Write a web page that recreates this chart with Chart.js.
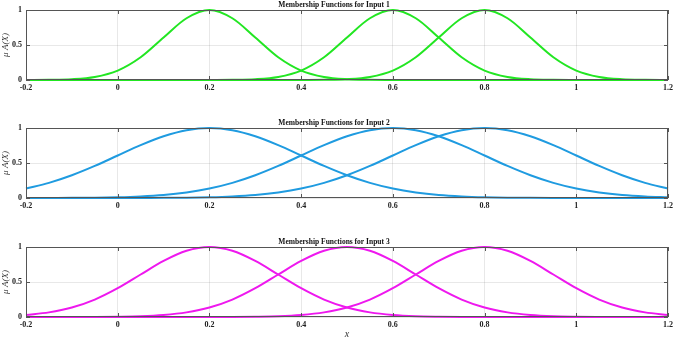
<!DOCTYPE html>
<html>
<head>
<meta charset="utf-8">
<script src="https://cdn.jsdelivr.net/npm/chart.js@4/dist/chart.umd.min.js"></script>
<style>
  body { margin: 0; background: #fff; }
  .box { position: absolute; left: 0; width: 676px; }
</style>
</head>
<body>
<div class="box" style="top:0px;height:100px"><canvas id="c1"></canvas></div>
<div class="box" style="top:118px;height:100px"><canvas id="c2"></canvas></div>
<div class="box" style="top:237px;height:103px"><canvas id="c3"></canvas></div>
<script>
// x positions, step 0.05 from -0.2 to 1.2
const xs = [-0.2, -0.15, -0.1, -0.05, 0, 0.05, 0.1, 0.15, 0.2, 0.25, 0.3, 0.35, 0.4, 0.45,
  0.5, 0.55, 0.6, 0.65, 0.7, 0.75, 0.8, 0.85, 0.9, 0.95, 1, 1.05, 1.1, 1.15, 1.2];

// Input 1 (narrow)
const in1_a = [0, 0.002, 0.011, 0.044, 0.135, 0.325, 0.607, 0.882, 1, 0.882, 0.607, 0.325, 0.135, 0.044,
  0.011, 0.002, 0, 0, 0, 0, 0, 0, 0, 0, 0, 0, 0, 0, 0];
const in1_b = [0, 0, 0, 0, 0, 0, 0, 0, 0, 0.002, 0.011, 0.044, 0.135, 0.325,
  0.607, 0.882, 1, 0.882, 0.607, 0.325, 0.135, 0.044, 0.011, 0.002, 0, 0, 0, 0, 0];
const in1_c = [0, 0, 0, 0, 0, 0, 0, 0, 0, 0, 0, 0, 0, 0.002,
  0.011, 0.044, 0.135, 0.325, 0.607, 0.882, 1, 0.882, 0.607, 0.325, 0.135, 0.044, 0.011, 0.002, 0];

// Input 2 (wide)
const in2_a = [0.135, 0.216, 0.325, 0.458, 0.607, 0.755, 0.882, 0.969, 1, 0.969, 0.882, 0.755, 0.607, 0.458,
  0.325, 0.216, 0.135, 0.08, 0.044, 0.023, 0.011, 0.005, 0.002, 0.001, 0, 0, 0, 0, 0];
const in2_b = [0, 0.001, 0.002, 0.005, 0.011, 0.023, 0.044, 0.08, 0.135, 0.216, 0.325, 0.458, 0.607, 0.755,
  0.882, 0.969, 1, 0.969, 0.882, 0.755, 0.607, 0.458, 0.325, 0.216, 0.135, 0.08, 0.044, 0.023, 0.011];
const in2_c = [0, 0, 0, 0, 0, 0.001, 0.002, 0.005, 0.011, 0.023, 0.044, 0.08, 0.135, 0.216,
  0.325, 0.458, 0.607, 0.755, 0.882, 0.969, 1, 0.969, 0.882, 0.755, 0.607, 0.458, 0.325, 0.216, 0.135];

// Input 3 (medium)
const in3_a = [0.029, 0.066, 0.135, 0.249, 0.411, 0.607, 0.801, 0.946, 1, 0.946, 0.801, 0.607, 0.411, 0.249,
  0.135, 0.066, 0.029, 0.011, 0.004, 0.001, 0, 0, 0, 0, 0, 0, 0, 0, 0];
const in3_b = [0, 0, 0, 0.001, 0.004, 0.011, 0.029, 0.066, 0.135, 0.249, 0.411, 0.607, 0.801, 0.946,
  1, 0.946, 0.801, 0.607, 0.411, 0.249, 0.135, 0.066, 0.029, 0.011, 0.004, 0.001, 0, 0, 0];
const in3_c = [0, 0, 0, 0, 0, 0, 0, 0, 0, 0.001, 0.004, 0.011, 0.029, 0.066,
  0.135, 0.249, 0.411, 0.607, 0.801, 0.946, 1, 0.946, 0.801, 0.607, 0.411, 0.249, 0.135, 0.066, 0.029];

const xTicks = [-0.2, 0, 0.2, 0.4, 0.6, 0.8, 1, 1.2];
const yTicks = [0, 0.5, 1];

const serif = '"Liberation Serif", "Times New Roman", serif';
const fmt = v => String(Number(v.toFixed(2)));

// frame + inward tick marks like matlab axes
const framePlugin = {
  id: 'frame',
  afterDraw(chart) {
    const ctx = chart.ctx, a = chart.chartArea;
    const xs_ = chart.scales.x, ys_ = chart.scales.y;
    ctx.save();
    ctx.strokeStyle = '#555';
    ctx.lineWidth = 1;
    ctx.strokeRect(a.left + 0.5, a.top + 0.5, a.right - a.left - 1, a.bottom - a.top - 1);
    ctx.beginPath();
    xTicks.forEach(v => {
      const px = Math.round(xs_.getPixelForValue(v)) + 0.5;
      ctx.moveTo(px, a.top); ctx.lineTo(px, a.top + 4);
      ctx.moveTo(px, a.bottom); ctx.lineTo(px, a.bottom - 4);
    });
    yTicks.forEach(v => {
      const py = Math.round(ys_.getPixelForValue(v)) + 0.5;
      ctx.moveTo(a.left, py); ctx.lineTo(a.left + 4, py);
      ctx.moveTo(a.right, py); ctx.lineTo(a.right - 4, py);
    });
    ctx.stroke();
    ctx.restore();
  }
};

function makeChart(id, title, series, color, xAxisH, showX) {
  const datasets = series.map(s => ({
    data: xs.map((x, i) => ({ x: x, y: s[i] })),
    borderColor: color,
    borderWidth: 2,
    pointRadius: 0,
    cubicInterpolationMode: 'monotone',
    clip: 2
  }));
  new Chart(document.getElementById(id), {
    type: 'line',
    data: { datasets: datasets },
    plugins: [framePlugin],
    options: {
      responsive: true,
      maintainAspectRatio: false,
      animation: false,
      layout: { padding: { left: 0, right: 8, top: 0, bottom: 0 } },
      plugins: {
        legend: { display: false },
        tooltip: { enabled: false },
        title: {
          display: true,
          text: title,
          color: '#111',
          font: { family: serif, size: 7.5, weight: 'bold', lineHeight: 1 },
          padding: { top: 1, bottom: 1.5 }
        }
      },
      scales: {
        x: {
          type: 'linear',
          min: -0.2,
          max: 1.2,
          afterBuildTicks: s => { s.ticks = xTicks.map(v => ({ value: v })); },
          afterFit: s => { s.height = xAxisH; },
          ticks: {
            color: '#222',
            font: { family: serif, size: 8, weight: 'bold' },
            padding: 3,
            maxRotation: 0,
            callback: fmt
          },
          grid: { color: 'rgba(0,0,0,0.09)', drawTicks: false },
          border: { display: false },
          title: {
            display: showX,
            text: 'x',
            color: '#333',
            font: { family: serif, size: 10, style: 'italic' },
            padding: { top: 0, bottom: 0 }
          }
        },
        y: {
          min: 0,
          max: 1,
          afterBuildTicks: s => { s.ticks = yTicks.map(v => ({ value: v })); },
          afterFit: s => { s.width = 26; },
          ticks: {
            color: '#222',
            font: { family: serif, size: 8, weight: 'bold' },
            padding: 4,
            callback: fmt
          },
          grid: { color: 'rgba(0,0,0,0.09)', drawTicks: false },
          border: { display: false },
          title: {
            display: true,
            text: 'μ A(X)',
            color: '#333',
            font: { family: serif, size: 9, style: 'italic' },
            padding: { top: 0, bottom: 0 }
          }
        }
      }
    }
  });
}

makeChart('c1', 'Membership Functions for Input 1', [in1_a, in1_b, in1_c], '#22e622', 20, false);
makeChart('c2', 'Membership Functions for Input 2', [in2_a, in2_b, in2_c], '#1f9be0', 20, false);
makeChart('c3', 'Membership Functions for Input 3', [in3_a, in3_b, in3_c], '#ee18ee', 23, true);
</script>
</body>
</html>
